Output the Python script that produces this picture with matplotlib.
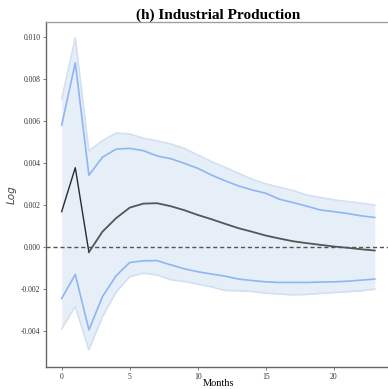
import matplotlib
matplotlib.use("Agg")
import matplotlib.pyplot as plt
import numpy as np

months = np.arange(24)

# impulse response of industrial production (log), with bands
irf_mean = [0.00169, 0.00378, -0.00024, 0.00074, 0.00138, 0.00188, 0.00207, 0.00209,
            0.00195, 0.00176, 0.00153, 0.00133, 0.00111, 0.00090, 0.00073, 0.00055,
            0.00041, 0.00028, 0.00019, 0.00011, 0.00003, -0.00003, -0.00010, -0.00016]
inner_hi = [0.00580, 0.00877, 0.00342, 0.00428, 0.00466, 0.00470, 0.00459, 0.00434,
            0.00421, 0.00399, 0.00375, 0.00343, 0.00316, 0.00291, 0.00272, 0.00256,
            0.00228, 0.00212, 0.00195, 0.00177, 0.00169, 0.00160, 0.00149, 0.00141]
inner_lo = [-0.00244, -0.00130, -0.00394, -0.00235, -0.00136, -0.00073, -0.00065, -0.00064,
            -0.00084, -0.00103, -0.00117, -0.00128, -0.00138, -0.00152, -0.00159, -0.00165,
            -0.00168, -0.00168, -0.00168, -0.00166, -0.00165, -0.00162, -0.00157, -0.00152]
outer_hi = [0.00703, 0.00996, 0.00457, 0.00506, 0.00543, 0.00538, 0.00518, 0.00506,
            0.00491, 0.00470, 0.00438, 0.00407, 0.00380, 0.00351, 0.00323, 0.00301,
            0.00285, 0.00269, 0.00248, 0.00236, 0.00225, 0.00217, 0.00209, 0.00200]
outer_lo = [-0.00388, -0.00282, -0.00489, -0.00330, -0.00214, -0.00140, -0.00124, -0.00132,
            -0.00155, -0.00163, -0.00176, -0.00189, -0.00206, -0.00208, -0.00211, -0.00219,
            -0.00223, -0.00227, -0.00225, -0.00220, -0.00216, -0.00212, -0.00208, -0.00200]

fig = plt.figure(figsize=(3.88, 3.89), dpi=100)
ax = fig.add_axes([0.1186, 0.0566, 0.8876, 0.8869])

ax.fill_between(months, outer_lo, outer_hi, color="#e6eef8", lw=0)
ax.plot(months, outer_hi, color="#d3e0f1", lw=1.2)
ax.plot(months, outer_lo, color="#d3e0f1", lw=1.2)
ax.plot(months, inner_hi, color="#8fb5f2", lw=1.2)
ax.plot(months, inner_lo, color="#8fb5f2", lw=1.2)
ax.plot(months[:3], irf_mean[:3], color="#2b2b2b", lw=1.0)
ax.plot(months[2:], irf_mean[2:], color="#555555", lw=1.3)
ax.axhline(0, color="#555555", lw=1.0, ls=(0, (3, 2)))

ax.set_xlim(-1.15, 24.15)
ax.set_ylim(-0.0057, 0.01071)
ax.set_xticks([0, 5, 10, 15, 20])
ax.set_yticks([-0.004, -0.002, 0.0, 0.002, 0.004, 0.006, 0.008, 0.010])
ax.set_yticklabels(["-0.004", "-0.002", "0.000", "0.002", "0.004", "0.006", "0.008", "0.010"])

for lab in ax.get_xticklabels() + ax.get_yticklabels():
    lab.set_fontfamily("Liberation Serif")
    lab.set_fontsize(5.5)
    lab.set_color("#333333")
ax.tick_params(length=2, width=0.6, color="#666666", pad=2)

for s in ["left", "bottom"]:
    ax.spines[s].set_color("#666666")
    ax.spines[s].set_linewidth(1.0)
ax.spines["top"].set_color("#a0a0a0")
ax.spines["top"].set_linewidth(1.0)
ax.spines["right"].set_visible(False)

ax.set_title("(h) Industrial Production", fontfamily="Liberation Serif",
             fontweight="bold", fontsize=11, pad=2)
ax.set_xlabel("Months", fontfamily="Liberation Serif", fontsize=7.5)
ax.set_ylabel("Log", fontstyle="italic", fontsize=7.5, color="#444444")
ax.xaxis.set_label_coords(0.5, -0.036)
ax.yaxis.set_label_coords(-0.085, 0.5)

fig.savefig("out.png", dpi=100)
